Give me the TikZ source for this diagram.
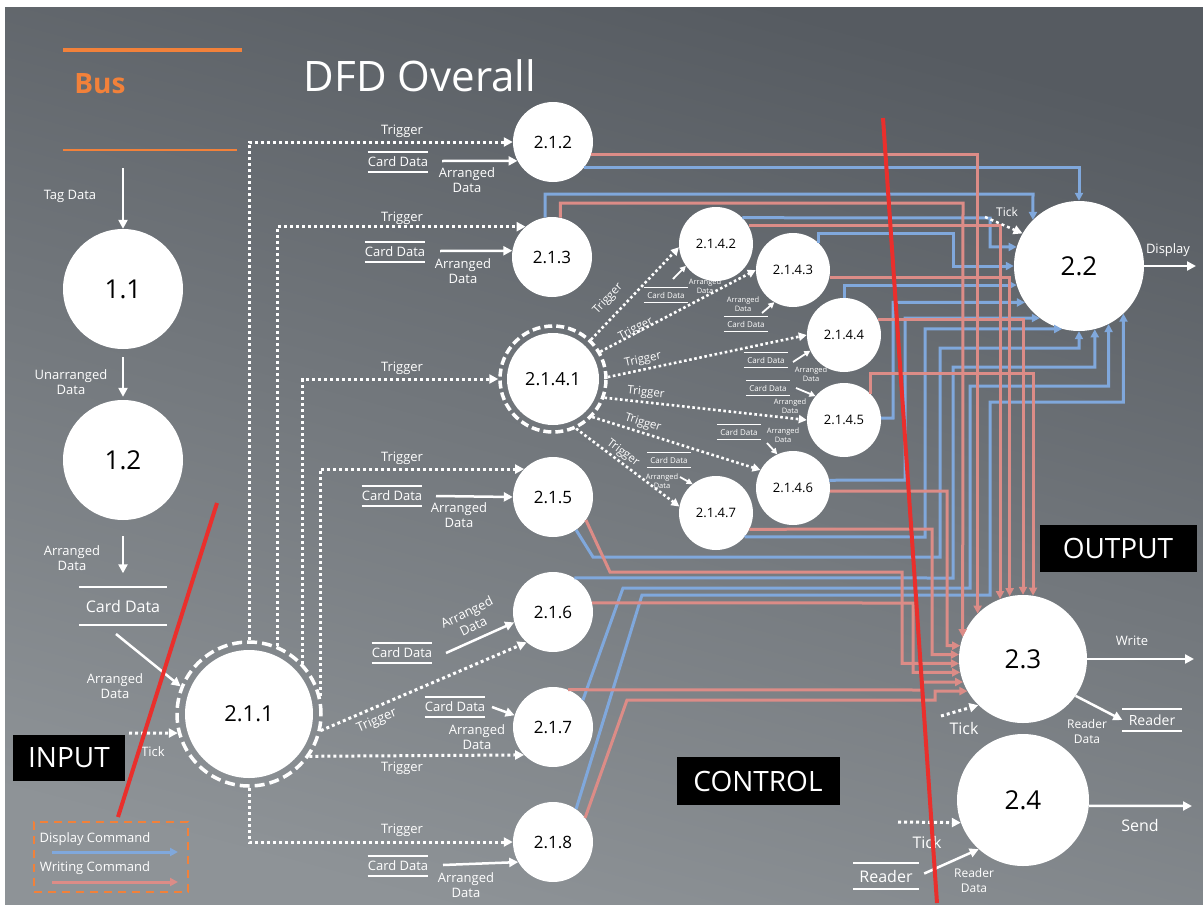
\documentclass[tikz,border=0pt]{standalone}
\usepackage{fontspec}
\setmainfont{Open Sans}
\usetikzlibrary{arrows.meta}
\definecolor{bgtop}{HTML}{565B61}
\definecolor{bgbot}{HTML}{8E9397}
\definecolor{dispblue}{HTML}{80A8DC}
\definecolor{writered}{HTML}{DC8C87}
\definecolor{busorange}{HTML}{F2813A}
\definecolor{divred}{HTML}{EA2F2C}
\begin{document}
\begin{tikzpicture}[x=1pt,y=-1pt,
 lbl/.style={text=white, inner sep=0, align=center, font=\fontsize{13}{15}\selectfont},
 lblb/.style={text=white, inner sep=0, align=center, font=\fontsize{16}{18}\selectfont},
 slbl/.style={text=white, inner sep=0, align=center, font=\fontsize{7.5}{8.5}\selectfont},
 tlbl/.style={text=white, inner sep=0, font=\fontsize{11.5}{13}\selectfont},
 proc/.style={circle, fill=white, inner sep=0, text=black},
 mid/.style={proc, minimum size=80, font=\fontsize{17}{18}\selectfont},
 sm/.style={proc, minimum size=74, font=\fontsize{13}{14}\selectfont},
 big/.style={proc, font=\fontsize{26}{28}\selectfont},
 ringst/.style={circle, draw=white, line width=3.5pt, dash pattern=on 10pt off 5pt, inner sep=0},
 warrow/.style={white, line width=2.5pt, -{Triangle[length=9pt,width=9pt]}},
 sarrow/.style={white, line width=1.8pt, -{Triangle[length=6pt,width=6pt]}},
 trig/.style={white, line width=3pt, dash pattern=on 3pt off 3pt, -{Triangle[length=9pt,width=9pt]}},
 strig/.style={white, line width=2.6pt, dash pattern=on 2.6pt off 2.6pt, -{Triangle[length=8pt,width=8pt]}},
 bl/.style={dispblue, line width=3pt, -{Triangle[length=8pt,width=8pt]}},
 rl/.style={writered, line width=3pt, -{Triangle[length=8pt,width=8pt]}},
 storeln/.style={draw=white, line width=2.2pt},
 sstoreln/.style={draw=white, line width=1.5pt},
 store/.style={text=white, inner sep=0, append after command={(\tikzlastnode.north west) edge[storeln] (\tikzlastnode.north east) (\tikzlastnode.south west) edge[storeln] (\tikzlastnode.south east)}},
 midstore/.style={store, minimum width=58, minimum height=20, font=\fontsize{13}{14}\selectfont},
 smstore/.style={text=white, inner sep=0, minimum width=44, minimum height=15, font=\fontsize{8}{9}\selectfont, append after command={(\tikzlastnode.north west) edge[sstoreln] (\tikzlastnode.north east) (\tikzlastnode.south west) edge[sstoreln] (\tikzlastnode.south east)}},
 blackbox/.style={fill=black, text=white, inner sep=0, font=\fontsize{28}{30}\selectfont},
 divider/.style={divred, line width=4pt},
]
\useasboundingbox (0,0) rectangle (1203,905);
\fill[white] (0,0) rectangle (1203,905);
\shade[top color=bgtop, bottom color=bgbot, shading angle=-15] (5,7) rectangle (1203,905);

% ---- Bus and title
\coordinate (bus1a) at (63,50); \coordinate (bus1b) at (242,50);
\coordinate (bus2a) at (63,150); \coordinate (bus2b) at (237,150);
\draw[busorange, line width=4pt] (bus1a) -- (bus1b);
\draw[busorange, line width=2pt] (bus2a) -- (bus2b);
\node[text=busorange, inner sep=0, font=\bfseries\fontsize{28}{30}\selectfont] (bus) at (100,84) {Bus};
\node[text=white, inner sep=0, font=\fontsize{42}{44}\selectfont] (title) at (420,76) {DFD Overall};

% ---- process nodes
\node[big, minimum size=120] (n11) at (123,289) {1.1};
\node[big, minimum size=120] (n12) at (123,460) {1.2};
\node[proc, minimum size=128, font=\fontsize{22}{24}\selectfont] (n211) at (249,714) {2.1.1};
\node[ringst, minimum size=144] (r211) at (249,714) {};
\node[mid] (n212) at (553,142) {2.1.2};
\node[mid] (n213) at (552,257) {2.1.3};
\node[proc, minimum size=92, font=\fontsize{18}{20}\selectfont] (n2141) at (553,379) {2.1.4.1};
\node[ringst, minimum size=106, dash pattern=on 8pt off 4pt] (r2141) at (553,379) {};
\node[sm] (n2142) at (716,244) {2.1.4.2};
\node[sm] (n2143) at (793,270) {2.1.4.3};
\node[sm] (n2144) at (844,335) {2.1.4.4};
\node[sm] (n2145) at (844,420) {2.1.4.5};
\node[sm] (n2146) at (793,488) {2.1.4.6};
\node[sm] (n2147) at (716,513) {2.1.4.7};
\node[mid] (n215) at (553,497) {2.1.5};
\node[mid] (n216) at (553,612) {2.1.6};
\node[mid] (n217) at (553,727) {2.1.7};
\node[mid] (n218) at (553,842) {2.1.8};
\node[big, minimum size=130] (n22) at (1079,266) {2.2};
\node[big, minimum size=128] (n23) at (1023,659) {2.3};
\node[big, minimum size=132] (n24) at (1023,800) {2.4};

% ---- display command lines (blue) to 2.2
\draw[bl] (n212.320) -| (n22.90);
\draw[bl] (n213.100) |- (1033,194) -- (n22.135);
\draw[bl] (n2142.45) -- (990,218) |- (n22.163);
\draw[bl] (n2143.47) |- (953,233) |- (n22.180);
\draw[bl] (n2144.90) |- (n22.197);
\draw[bl] (n2145.3) -- (893,418) |- (n22.214);
\draw[bl] (n2146.12) -- (905,480) |- (n22.233);
\draw[bl] (n2147.320) -- (925,537) |- (n22.255);
\draw[bl] (n215.305) -- (593,557) -- (940,557) -- (940,348) -| (n22.270);
\draw[bl] (n216.58) -- (953,578) -- (953,367) -| (n22.284);
\draw[bl] (n217.42) -- (623,588) -- (970,588) -- (970,386) -| (n22.297);
\draw[bl] (n218.55) -- (642,595) -- (990,595) -- (990,402) -| (n22.313);

% ---- writing command lines (red) to 2.3
\draw[rl] (n212.342) -| (n23.135);
\draw[rl] (n213.78) |- (963,203) -- (n23.160);
\draw[rl] (n2142.29) -| (n23.111);
\draw[rl] (n2143.349) -| (n23.102);
\draw[rl] (n2144.24) -| (n23.90);
\draw[rl] (n2145.45) -- ++(0,-20) -| (n23.81);
\draw[rl] (n2146.355) -- (947,491) |- (n23.168);
\draw[rl] (n2147.334) -- (932,529) |- (n23.176);
\draw[rl] (n215.325) -- (610,572) -- (902,572) |- (n23.184.5);
\draw[rl] (n216.13) -- (913,603) |- (n23.192.6);
\draw[rl] (n217.68) -- (922,690) |- (n23.201);
\draw[rl] (n218.37) -- (627,700) -- (935,700) |- (n23.210);

% ---- left column
\node[lbl] (ltag) at (70,196) {Tag Data};
\coordinate (tagin) at (123,168);
\draw[warrow] (tagin) -- (n11);
\node[lbl] (lunarr) at (71,382) {Unarranged\\Data};
\draw[warrow, shorten <=8pt, shorten >=3pt] (n11) -- (n12);
\node[lbl] (larr1) at (72,558) {Arranged\\Data};
\node[store, minimum width=88, minimum height=37, font=\fontsize{16}{18}\selectfont] (cd0) at (123,606) {Card Data};
\draw[warrow, shorten <=16pt, shorten >=14pt] (n12) -- (cd0);
\coordinate (cdout) at (116,634);
\draw[warrow] (cdout) -- (r211.158);
\node[lbl] (larr2) at (115,686) {Arranged\\Data};
\coordinate (tickin) at (129,733);
\draw[trig] (tickin) -- (r211.195);
\node[lbl] (ltick) at (153,752) {Tick};
\node[blackbox, minimum width=112, minimum height=46] (input) at (69,758) {INPUT};

% ---- legend
\node[draw=busorange, line width=2.5pt, dash pattern=on 8pt off 6pt, minimum width=154, minimum height=70, inner sep=0] (legend) at (111,857) {};
\node[lbl] (ldisp) at (95,839) {Display Command};
\node[lbl] (lwrite) at (95,868) {Writing Command};
\coordinate (lb1) at (52,852); \coordinate (lb2) at (178,852);
\coordinate (lr1) at (52,882); \coordinate (lr2) at (178,882);
\draw[bl] (lb1) -- (lb2);
\draw[rl] (lr1) -- (lr2);

% ---- triggers from 2.1.1
\draw[trig] (r211.90) |- (n212.west);
\draw[trig] (r211.67) |- (n213.131);
\draw[trig] (r211.43) |- (r2141.west);
\draw[trig] (r211.14) |- (n215.136);
\draw[trig] (r211.347) -- (n216.229);
\draw[trig] (r211.325) -- (n217.224);
\draw[trig] (r211.270) |- (n218.west);
\node[lbl] (tg2) at (402,131) {Trigger};
\node[lbl] (tg3) at (402,218) {Trigger};
\node[lbl] (tg41) at (402,368) {Trigger};
\node[lbl] (tg5) at (402,458) {Trigger};
\node[lbl, rotate=23] (tg6) at (377,721) {Trigger};
\node[lbl] (tg7) at (402,768) {Trigger};
\node[lbl] (tg8) at (402,830) {Trigger};

% ---- card data stores for 2.1.x
\node[midstore] (cd2) at (398,162) {Card Data};
\node[midstore] (cd3) at (395,252) {Card Data};
\node[midstore] (cd5) at (392,496) {Card Data};
\node[midstore] (cd6) at (402,653) {Card Data};
\node[midstore] (cd7) at (455,707) {Card Data};
\node[midstore] (cd8) at (398,866) {Card Data};
\coordinate (a2) at (442,161); \draw[warrow] (a2) -- (n212.208);
\coordinate (a3) at (440,251); \draw[warrow] (a3) -- (n213.171);
\coordinate (a5) at (436,496); \draw[warrow] (a5) -- (n215.west);
\coordinate (a6) at (446,653); \draw[warrow] (a6) -- (n216.195);
\coordinate (a7) at (492,707); \draw[warrow] (a7) -- (n217.163);
\coordinate (a8) at (443,865); \draw[warrow] (a8) -- (n218.210);
\node[lbl] (ar2) at (467,180) {Arranged\\Data};
\node[lbl] (ar3) at (463,271) {Arranged\\Data};
\node[lbl] (ar5) at (459,515) {Arranged\\Data};
\node[lbl, rotate=26] (ar6) at (470,619) {Arranged\\Data};
\node[lbl] (ar7) at (477,737) {Arranged\\Data};
\node[lbl] (ar8) at (466,885) {Arranged\\Data};

% ---- 2.1.4 cluster
\draw[strig] (r2141.46) -- (n2142.185);
\draw[strig] (r2141.30) -- (n2143.west);
\draw[strig] (r2141.2) -- (n2144.west);
\draw[strig] (r2141.340) -- (n2145.west);
\draw[strig] (r2141.316) -- (n2146.151);
\draw[strig] (r2141.295) -- (n2147.170);
\node[tlbl, rotate=46.5] (ct2) at (608,299) {Trigger};
\node[tlbl, rotate=27.6] (ct3) at (636,329) {Trigger};
\node[tlbl, rotate=11.9] (ct4) at (643,360) {Trigger};
\node[tlbl, rotate=-6.3] (ct5) at (646,393) {Trigger};
\node[tlbl, rotate=-17.5] (ct6) at (643,423) {Trigger};
\node[tlbl, rotate=-37] (ct7) at (623,453) {Trigger};
\node[smstore] (cs2) at (666,295) {Card Data};
\node[smstore] (cs3) at (746,324) {Card Data};
\node[smstore] (cs4) at (766,360) {Card Data};
\node[smstore] (cs5) at (768,388) {Card Data};
\node[smstore] (cs6) at (739,432) {Card Data};
\node[smstore] (cs7) at (669,460) {Card Data};
\coordinate (sa2) at (673,279); \draw[sarrow] (sa2) -- (n2142.216);
\coordinate (sa3) at (762,313); \draw[sarrow] (sa3) -- (n2143.240);
\coordinate (sa4) at (793,362); \draw[sarrow] (sa4) -- (n2144.205);
\coordinate (sa5) at (796,388); \draw[sarrow] (sa5) -- (n2145.140);
\coordinate (sa6) at (767,443); \draw[sarrow] (sa6) -- (n2146.115);
\coordinate (sa7) at (680,477); \draw[sarrow] (sa7) -- (n2147.129);
\node[slbl] (sl2) at (705,286) {Arranged\\Data};
\node[slbl] (sl3) at (743,304) {Arranged\\Data};
\node[slbl] (sl4) at (811,374) {Arranged\\Data};
\node[slbl] (sl5) at (790,406) {Arranged\\Data};
\node[slbl] (sl6) at (783,435) {Arranged\\Data};
\node[slbl] (sl7) at (662,481) {Arranged\\Data};

% ---- 2.2
\coordinate (tick22in) at (985,217);
\draw[trig, line width=2.5pt] (tick22in) -- (n22.150);
\node[lbl, font=\fontsize{12}{13}\selectfont] (tk22) at (1007,212) {Tick};
\coordinate (dispout) at (1196,266);
\draw[warrow] (n22.east) -- (dispout);
\node[lbl] (ldisplay) at (1168,250) {Display};

% ---- 2.3
\coordinate (writeout) at (1194,659);
\draw[warrow] (n23.east) -- (writeout);
\node[lbl] (lwr) at (1132,641) {Write};
\node[store, minimum width=59, minimum height=22, font=\fontsize{14}{15}\selectfont] (rd1) at (1152,720) {Reader};
\draw[warrow] (n23.325) -- (rd1.west);
\node[lbl, font=\fontsize{12}{15}\selectfont] (lrd1) at (1087,731) {Reader\\Data};
\coordinate (tick23in) at (941,716);
\draw[trig] (tick23in) -- (n23.226);
\node[lblb] (tk23) at (964,728) {Tick};

% ---- 2.4
\coordinate (sendout) at (1192,806);
\draw[warrow] (n24.355) -- (sendout);
\node[lblb] (lsend) at (1140,825) {Send};
\coordinate (tick24in) at (898,822);
\draw[trig] (tick24in) -- (n24.200);
\node[lblb] (tk24) at (927,842) {Tick};
\node[store, minimum width=65, minimum height=26, font=\fontsize{16}{18}\selectfont] (rd2) at (886,876) {Reader};
\draw[warrow, shorten <=6pt] (rd2.east) -- (n24.228);
\node[lbl, font=\fontsize{12}{15}\selectfont] (lrd2) at (974,880) {Reader\\Data};

% ---- zone labels
\node[blackbox, minimum width=157, minimum height=47] (output) at (1118,548) {OUTPUT};
\node[blackbox, minimum width=163, minimum height=48] (control) at (758,781) {CONTROL};

% ---- dividers
\coordinate (div1a) at (217,503); \coordinate (div1b) at (118,817);
\coordinate (div2a) at (883,118); \coordinate (div2b) at (937,903);
\draw[divider] (div1a) -- (div1b);
\draw[divider] (div2a) -- (div2b);
\end{tikzpicture}
\end{document}
